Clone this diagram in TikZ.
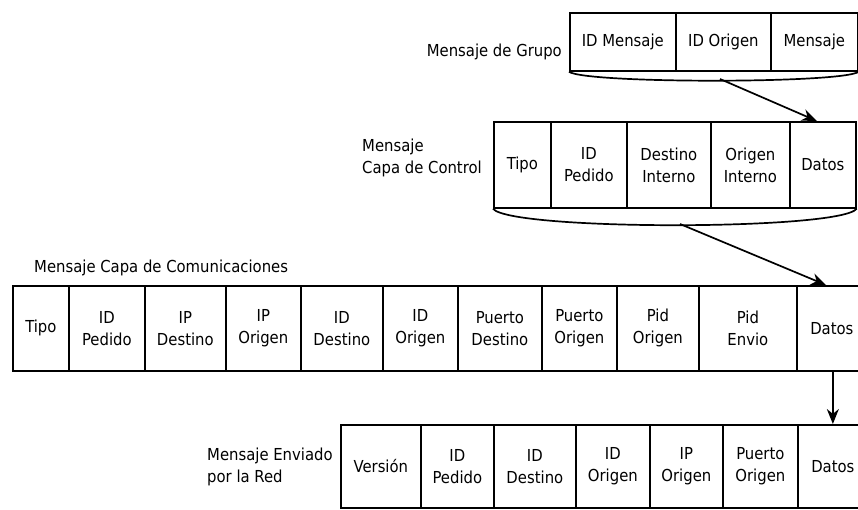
\documentclass[tikz,border=0pt]{standalone}
\usepackage{fontspec}
\setmainfont{DejaVu Sans Condensed}
\usetikzlibrary{positioning,calc,arrows.meta}
\tikzset{font=\fontsize{16.5}{22}\selectfont}

\begin{document}
\begin{tikzpicture}[x=1pt, y=-1pt]
	\useasboundingbox (0,0) rectangle (858,509);
	\tikzset{
		field/.style={draw, line width=1.7pt, anchor=north west, align=center, inner sep=0pt},
		rowa/.style={field, minimum height=58pt},
		rowb/.style={field, minimum height=86pt},
		rowc/.style={field, minimum height=85pt},
		rowd/.style={field, minimum height=83pt},
		lbl/.style={align=left, inner sep=0pt},
		flecha/.style={line width=1.7pt, -{Stealth[length=15pt, width=12pt]}}
	}
	% mensaje de grupo
	\node[lbl, anchor=east] (lgrupo) at (562, 52) {Mensaje de Grupo};
	\node[rowa, minimum width=106pt] (gidm) at (569, 12) {ID Mensaje};
	\node[rowa, minimum width=95pt] (gido) at (675, 12) {ID Origen};
	\node[rowa, minimum width=87pt] (gmsj) at (770, 12) {Mensaje};

	% capa de control
	\node[lbl, anchor=west] (lcontrol) at (362, 158) {Mensaje\\Capa de Control};
	\node[rowb, minimum width=57pt] (ctipo) at (493, 121) {Tipo};
	\node[rowb, minimum width=76pt] (cped) at (550, 121) {ID\\Pedido};
	\node[rowb, minimum width=84pt] (cdes) at (626, 121) {Destino\\Interno};
	\node[rowb, minimum width=79pt] (cori) at (710, 121) {Origen\\Interno};
	\node[rowb, minimum width=66pt] (cdat) at (789, 121) {Datos};

	% capa de comunicaciones
	\node[lbl, anchor=west] (lcomu) at (34, 268) {Mensaje Capa de Comunicaciones};
	\node[rowc, minimum width=56pt] (mtipo) at (12, 285) {Tipo};
	\node[rowc, minimum width=76pt] (mped) at (68, 285) {ID\\Pedido};
	\node[rowc, minimum width=81pt] (mipd) at (144, 285) {IP\\Destino};
	\node[rowc, minimum width=75pt] (mipo) at (225, 285) {IP\\Origen};
	\node[rowc, minimum width=82pt] (midd) at (300, 285) {ID\\Destino};
	\node[rowc, minimum width=75pt] (mido) at (382, 285) {ID\\Origen};
	\node[rowc, minimum width=84pt] (mptd) at (457, 285) {Puerto\\Destino};
	\node[rowc, minimum width=75pt] (mpto) at (541, 285) {Puerto\\Origen};
	\node[rowc, minimum width=82pt] (mpio) at (616, 285) {Pid\\Origen};
	\node[rowc, minimum width=98pt] (mpie) at (698, 285) {Pid\\Envio};
	\node[rowc, minimum width=70pt] (mdat) at (796, 285) {Datos};

	% mensaje enviado por la red
	\node[lbl, anchor=west] (lred) at (207, 467) {Mensaje Enviado\\por la Red};
	\node[rowd, minimum width=80pt] (rver) at (340, 424) {Versión};
	\node[rowd, minimum width=73pt] (rped) at (420, 424) {ID\\Pedido};
	\node[rowd, minimum width=82pt] (rdes) at (493, 424) {ID\\Destino};
	\node[rowd, minimum width=74pt] (rori) at (575, 424) {ID\\Origen};
	\node[rowd, minimum width=73pt] (ripo) at (649, 424) {IP\\Origen};
	\node[rowd, minimum width=75pt] (rpto) at (722, 424) {Puerto\\Origen};
	\node[rowd, minimum width=70pt] (rdat) at (797, 424) {Datos};

	% llaves y flechas
	\draw[line width=1.7pt] (gidm.south west) .. controls ($(gidm.south west)+(16,12)$) and ($(gmsj.south east)+(-16,12)$) .. (gmsj.south east);
	\coordinate (ga) at (720, 79);
	\draw[flecha] (ga) -- ($(cdat.north)+(-6,0)$);
	\draw[line width=1.7pt] (ctipo.south west) .. controls ($(ctipo.south west)+(17,22)$) and ($(cdat.south east)+(-17,22)$) .. (cdat.south east);
	\coordinate (ca) at (680, 224);
	\draw[flecha] (ca) -- ($(mdat.north west)+(30,0)$);
	\draw[flecha] (mdat.south west -| rdat.north) coordinate (ma) -- (ma |- rdat.north);
\end{tikzpicture}
\end{document}
